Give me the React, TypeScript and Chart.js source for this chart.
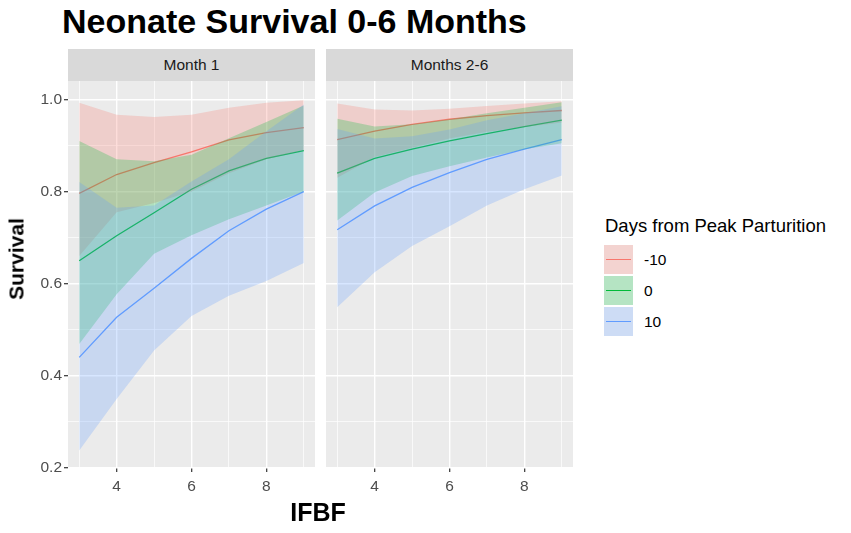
import { useEffect, useRef } from "react";
import { Chart, registerables } from "chart.js";
Chart.register(...registerables);

// IFBF values where the model was evaluated
const ifbf = [3, 4, 5, 6, 7, 8, 9];
const groups = ["-10", "0", "10"];
const lineColors = ["#F8766D", "#00BA38", "#619CFF"];
const ribbonColors = ["rgba(248,118,109,0.25)", "rgba(0,186,56,0.25)", "rgba(97,156,255,0.25)"];

const xMajor = [4, 6, 8];
const xMinor = [3, 5, 7, 9];
const yMajor = [0.2, 0.4, 0.6, 0.8, 1.0];
const yMinor = [0.3, 0.5, 0.7, 0.9];

// Month 1 panel: fit, lower and upper bounds per group (-10, 0, 10)
const m1Fit = [
  [0.796, 0.837, 0.863, 0.886, 0.912, 0.928, 0.939],
  [0.65, 0.704, 0.754, 0.805, 0.845, 0.872, 0.889],
  [0.44, 0.527, 0.59, 0.655, 0.715, 0.762, 0.8],
];
const m1Lo = [
  [0.66, 0.755, 0.775, 0.8, 0.84, 0.87, 0.89],
  [0.469, 0.577, 0.665, 0.705, 0.74, 0.77, 0.8],
  [0.238, 0.35, 0.455, 0.53, 0.574, 0.606, 0.645],
];
const m1Hi = [
  [0.993, 0.967, 0.962, 0.967, 0.982, 0.993, 0.998],
  [0.91, 0.87, 0.866, 0.88, 0.916, 0.951, 0.987],
  [0.821, 0.765, 0.77, 0.822, 0.87, 0.931, 0.989],
];

// Months 2-6 panel
const m26Fit = [
  [0.913, 0.931, 0.946, 0.957, 0.965, 0.971, 0.976],
  [0.84, 0.872, 0.892, 0.91, 0.926, 0.941, 0.955],
  [0.717, 0.769, 0.809, 0.841, 0.87, 0.892, 0.913],
];
const m26Lo = [
  [0.83, 0.875, 0.895, 0.915, 0.93, 0.94, 0.95],
  [0.737, 0.798, 0.834, 0.855, 0.874, 0.892, 0.905],
  [0.549, 0.625, 0.682, 0.725, 0.77, 0.805, 0.835],
];
const m26Hi = [
  [0.991, 0.978, 0.976, 0.98, 0.986, 0.991, 0.996],
  [0.958, 0.941, 0.946, 0.957, 0.97, 0.982, 0.994],
  [0.936, 0.915, 0.92, 0.935, 0.955, 0.97, 0.985],
];

const FONT = "'Liberation Sans', Arial, sans-serif";

const isIn = (list: number[], v: number) => list.some((m) => Math.abs(m - v) < 1e-6);

const panelBg = {
  id: "panelBg",
  beforeDraw(chart: any) {
    const { ctx, chartArea } = chart;
    ctx.save();
    ctx.fillStyle = "#EBEBEB";
    ctx.fillRect(chartArea.left, chartArea.top, chartArea.right - chartArea.left, chartArea.bottom - chartArea.top);
    ctx.restore();
  },
};

const toPoints = (vals: number[]) => ifbf.map((x, j) => ({ x, y: vals[j] }));

function buildDatasets(fit: number[][], lo: number[][], hi: number[][]) {
  const ds: any[] = [];
  groups.forEach((g, i) => {
    ds.push({
      label: g,
      data: toPoints(fit[i]),
      borderColor: lineColors[i],
      borderWidth: 1.3,
      pointRadius: 0,
      fill: false,
      order: 10,
    });
  });
  groups.forEach((g, i) => {
    const hiIndex = ds.length;
    ds.push({
      label: g + " upper",
      data: toPoints(hi[i]),
      borderColor: "transparent",
      borderWidth: 0,
      pointRadius: 0,
      fill: false,
      order: 5 - i,
    });
    ds.push({
      label: g + " lower",
      data: toPoints(lo[i]),
      borderColor: "transparent",
      borderWidth: 0,
      pointRadius: 0,
      backgroundColor: ribbonColors[i],
      fill: hiIndex,
      order: 5 - i,
    });
  });
  return ds;
}

function makeOptions(showY: boolean): any {
  return {
    animation: false,
    responsive: false,
    events: [],
    layout: { padding: { left: 0, right: 3, top: 0, bottom: 0 } },
    plugins: { legend: { display: false }, tooltip: { enabled: false } },
    scales: {
      x: {
        type: "linear",
        min: 2.7,
        max: 9.3,
        afterBuildTicks: (s: any) => {
          s.ticks = [...xMinor, ...xMajor].sort((a, b) => a - b).map((v) => ({ value: v }));
        },
        afterFit: (s: any) => {
          s.height = 32;
          s.paddingLeft = 0;
          s.paddingRight = 0;
        },
        border: { display: false },
        grid: {
          color: "#FFFFFF",
          lineWidth: (c: any) => (c.tick && isIn(xMajor, c.tick.value) ? 1.4 : 0.7),
          drawTicks: true,
          tickLength: 4,
          tickWidth: 1.2,
          tickColor: (c: any) => (c.tick && isIn(xMajor, c.tick.value) ? "#333333" : "rgba(0,0,0,0)"),
        },
        ticks: {
          autoSkip: false,
          maxRotation: 0,
          padding: 5,
          color: "#4D4D4D",
          font: { family: FONT, size: 15.5 },
          callback: (v: number) => (isIn(xMajor, v) ? String(v) : ""),
        },
      },
      y: {
        min: 0.2,
        max: 1.04,
        afterBuildTicks: (s: any) => {
          s.ticks = [...yMinor, ...yMajor].sort((a, b) => a - b).map((v) => ({ value: v }));
        },
        afterFit: (s: any) => {
          s.width = showY ? 68 : 0;
          s.paddingTop = 0;
          s.paddingBottom = 0;
        },
        border: { display: false },
        grid: {
          color: "#FFFFFF",
          lineWidth: (c: any) => (c.tick && isIn(yMajor, c.tick.value) ? 1.4 : 0.7),
          drawTicks: showY,
          tickLength: 4,
          tickWidth: 1.2,
          tickColor: (c: any) => (c.tick && isIn(yMajor, c.tick.value) ? "#333333" : "rgba(0,0,0,0)"),
        },
        ticks: {
          display: showY,
          autoSkip: false,
          padding: 2,
          color: "#4D4D4D",
          font: { family: FONT, size: 15.5 },
          callback: (v: number) => (isIn(yMajor, v) ? v.toFixed(1) : ""),
        },
      },
    },
  };
}

const Panel = ({ fit, lo, hi, showY }: { fit: number[][]; lo: number[][]; hi: number[][]; showY: boolean }) => {
  const ref = useRef<HTMLCanvasElement>(null);
  useEffect(() => {
    const chart = new Chart(ref.current!, {
      type: "line",
      data: { datasets: buildDatasets(fit, lo, hi) },
      options: makeOptions(showY),
      plugins: [panelBg],
    });
    return () => chart.destroy();
  }, []);
  return <canvas ref={ref} width={showY ? 318 : 250} height={419} />;
};

const strip: React.CSSProperties = {
  position: "absolute",
  top: 49,
  height: 32,
  width: 247,
  background: "#D9D9D9",
  color: "#1A1A1A",
  fontSize: 15.5,
  lineHeight: "32px",
  textAlign: "center",
};

const App = () => {
  useEffect(() => {
    document.body.style.margin = "0";
  }, []);
  return (
    <div style={{ position: "relative", width: 851, height: 533, background: "#FFFFFF", fontFamily: FONT, overflow: "hidden" }}>
      <div style={{ position: "absolute", left: 62, top: 4, fontSize: 34, fontWeight: "bold", lineHeight: 1, color: "#000", whiteSpace: "nowrap" }}>
        Neonate Survival 0-6 Months
      </div>
      <div style={{ ...strip, left: 68 }}>Month 1</div>
      <div style={{ ...strip, left: 326 }}>Months 2-6</div>
      <div style={{ position: "absolute", left: 0, top: 81 }}>
        <Panel fit={m1Fit} lo={m1Lo} hi={m1Hi} showY={true} />
      </div>
      <div style={{ position: "absolute", left: 326, top: 81 }}>
        <Panel fit={m26Fit} lo={m26Lo} hi={m26Hi} showY={false} />
      </div>
      <div
        style={{
          position: "absolute",
          left: 16,
          top: 259,
          transform: "translate(-50%, -50%) rotate(-90deg)",
          fontSize: 21,
          fontWeight: "bold",
          lineHeight: 1,
          whiteSpace: "nowrap",
        }}
      >
        Survival
      </div>
      <div
        style={{
          position: "absolute",
          left: 318,
          top: 500,
          transform: "translateX(-50%)",
          fontSize: 25,
          fontWeight: "bold",
          lineHeight: 1,
        }}
      >
        IFBF
      </div>
      <div style={{ position: "absolute", left: 605, top: 217, fontSize: 18.5, lineHeight: 1, color: "#000", whiteSpace: "nowrap" }}>
        Days from Peak Parturition
      </div>
      {groups.map((g, i) => (
        <div key={g} style={{ position: "absolute", left: 604, top: 245 + i * 31, height: 29, display: "flex", alignItems: "center" }}>
          <div style={{ position: "relative", width: 29, height: 29, background: "#F2F2F2" }}>
            <div style={{ position: "absolute", inset: 0, background: ribbonColors[i] }} />
            <div style={{ position: "absolute", left: 2, right: 2, top: 14, height: 1.3, background: lineColors[i] }} />
          </div>
          <div style={{ marginLeft: 11, fontSize: 15.5, color: "#000" }}>{g}</div>
        </div>
      ))}
    </div>
  );
};

export default App;
